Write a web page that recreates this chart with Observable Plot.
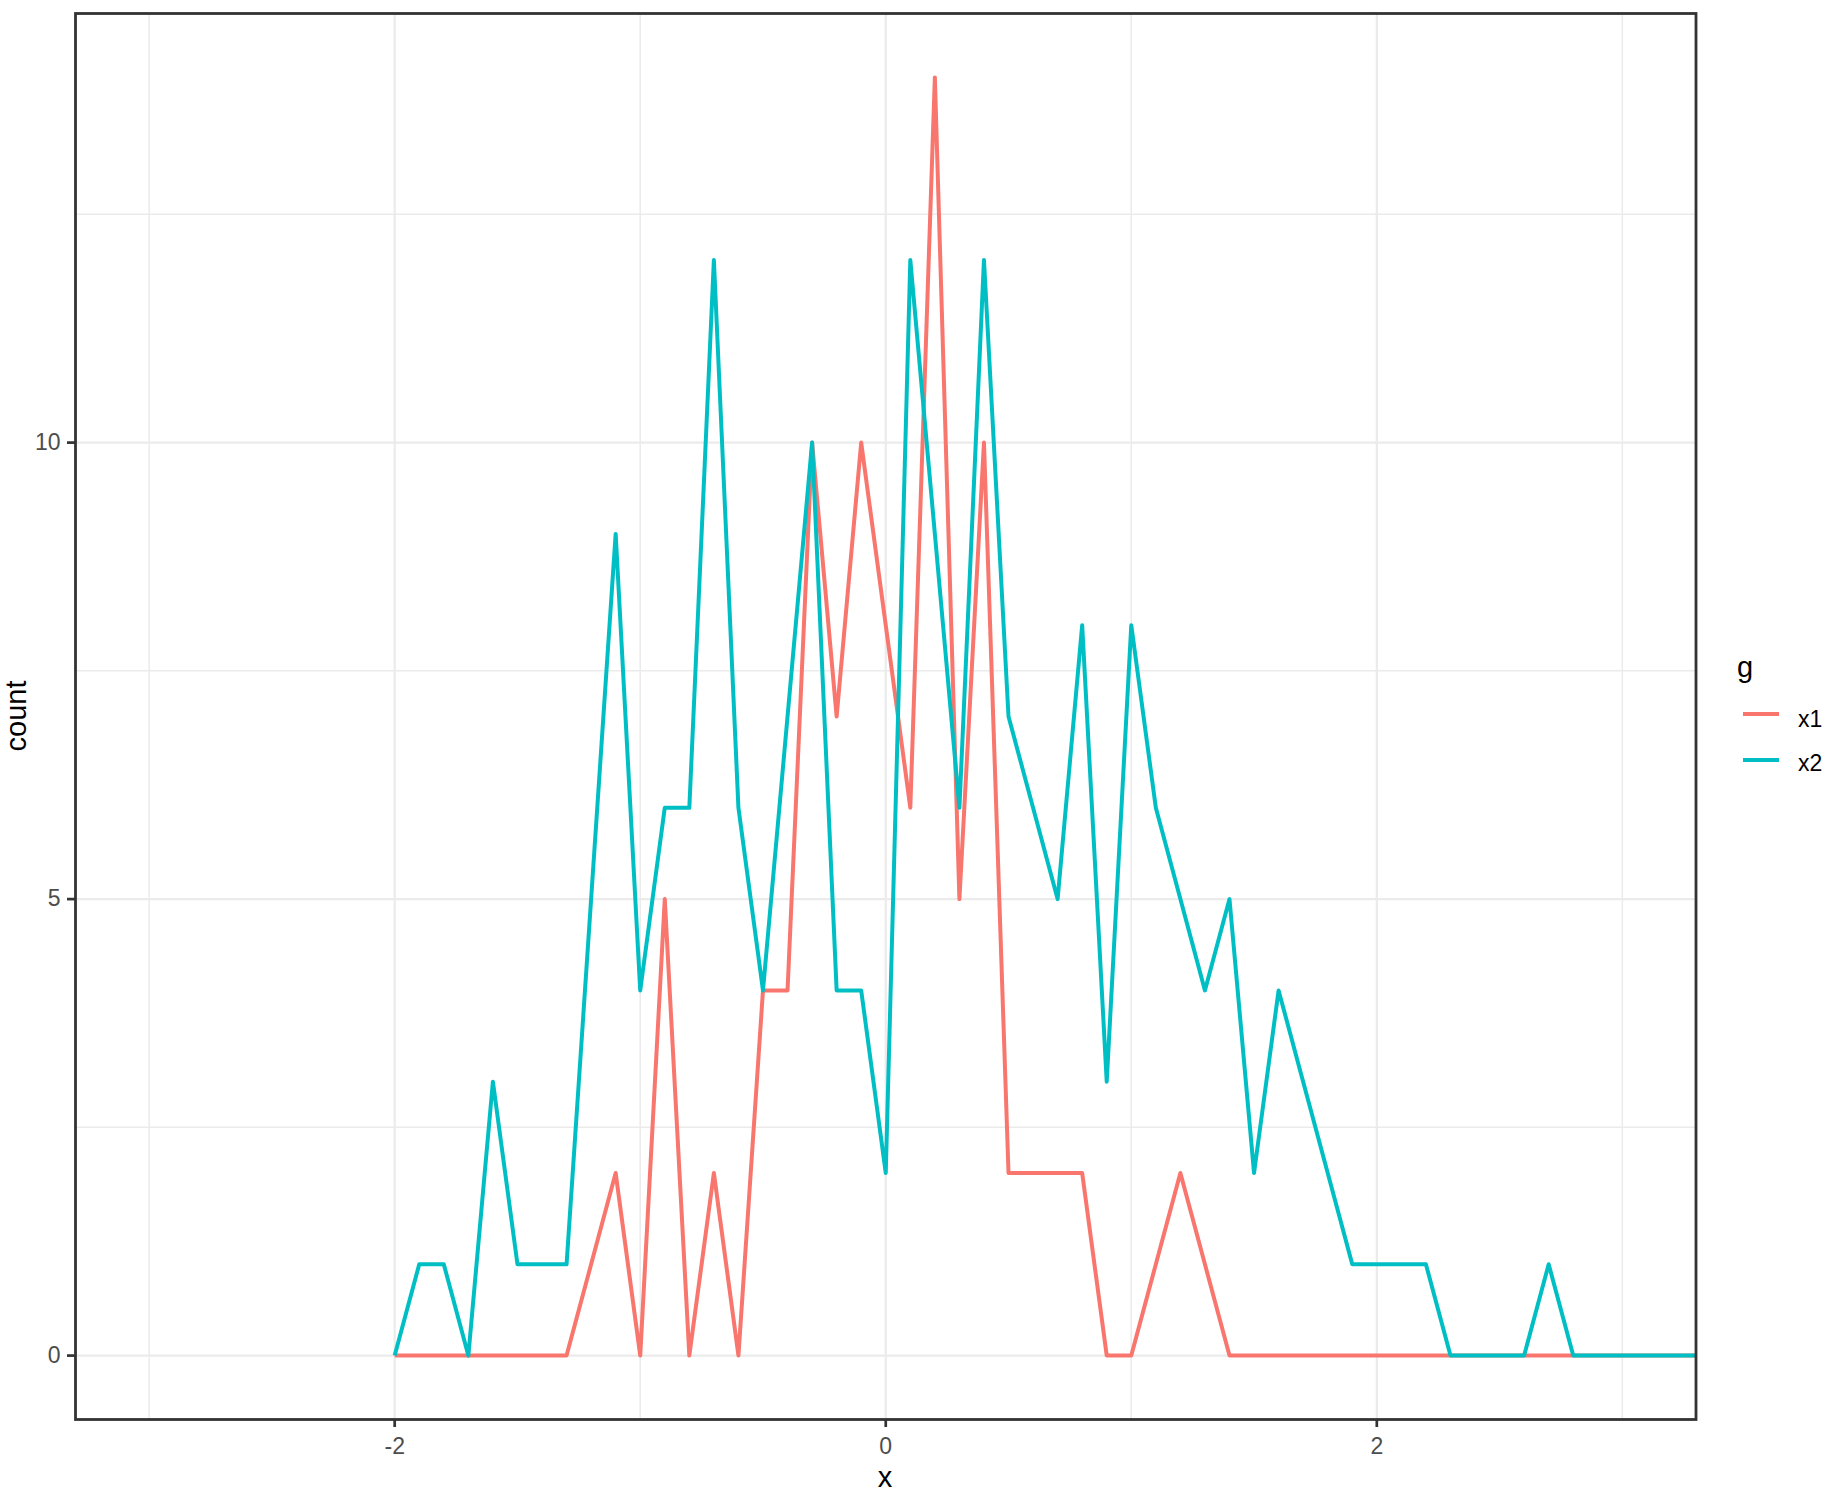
<!DOCTYPE html>
<html>
<head>
<meta charset="utf-8">
<script src="https://cdn.jsdelivr.net/npm/d3@7"></script>
<script src="https://cdn.jsdelivr.net/npm/@observablehq/plot@0.6"></script>
<style>
  html, body { margin: 0; padding: 0; background: #ffffff; }
  #wrap { position: relative; width: 1831px; height: 1504px; font-family: "Liberation Sans", Arial, sans-serif; background: #fff; }
  #wrap svg [aria-label="x-axis tick label"], #wrap svg [aria-label="y-axis tick label"] { fill: #4d4d4d; }
  .t { position: absolute; white-space: nowrap; line-height: 1; color: #000; }
</style>
</head>
<body>
<div id="wrap"></div>
<script>
// Bin centres (binwidth 0.1) of the frequency polygons
const bins = [-2.0, -1.9, -1.8, -1.7, -1.6, -1.5, -1.4, -1.3, -1.2, -1.1,
              -1.0, -0.9, -0.8, -0.7, -0.6, -0.5, -0.4, -0.3, -0.2, -0.1,
               0.0,  0.1,  0.2,  0.3,  0.4,  0.5,  0.6,  0.7,  0.8,  0.9,
               1.0,  1.1,  1.2,  1.3,  1.4,  1.5,  1.6,  1.7,  1.8,  1.9,
               2.0,  2.1,  2.2,  2.3,  2.4,  2.5,  2.6,  2.7,  2.8,  2.9,
               3.0,  3.1,  3.2,  3.3];
// Counts per bin, series x1
const x1 = [0, 0, 0, 0, 0, 0, 0, 0, 1, 2,
            0, 5, 0, 2, 0, 4, 4, 10, 7, 10,
            8, 6, 14, 5, 10, 2, 2, 2, 2, 0,
            0, 1, 2, 1, 0, 0, 0, 0, 0, 0,
            0, 0, 0, 0, 0, 0, 0, 0, 0, 0,
            0, 0, 0, 0];
// Counts per bin, series x2
const x2 = [0, 1, 1, 0, 3, 1, 1, 1, 5, 9,
            4, 6, 6, 12, 6, 4, 7, 10, 4, 4,
            2, 12, 9, 6, 12, 7, 6, 5, 8, 3,
            8, 6, 5, 4, 5, 2, 4, 3, 2, 1,
            1, 1, 1, 0, 0, 0, 0, 1, 0, 0,
            0, 0, 0, 0];

const groups = ["x1", "x2"];
const colors = ["#F8766D", "#00BFC4"];
const xMajor = [-2, 0, 2];
const xMinor = [-3, -1, 1, 3];
const yMajor = [0, 5, 10];
const yMinor = [2.5, 7.5, 12.5];
const xLimits = [-3.3, 3.3];
const yLimits = [-0.7, 14.7];

const series = { x1, x2 };
const data = groups.flatMap(g => bins.map((x, i) => ({ x, count: series[g][i], g })));

const grid = "#ebebeb";
const lineW = 4;
const chart = Plot.plot({
  width: 1831,
  height: 1504,
  marginLeft: 75,
  marginRight: 135.5,
  marginTop: 13,
  marginBottom: 85,
  style: { fontFamily: '"Liberation Sans", Arial, sans-serif', background: "#ffffff", overflow: "visible" },
  x: { domain: xLimits },
  y: { domain: yLimits },
  color: { domain: groups, range: colors },
  marks: [
    Plot.ruleX(xMinor, { stroke: grid, strokeWidth: 1.5 }),
    Plot.ruleY(yMinor, { stroke: grid, strokeWidth: 1.5 }),
    Plot.ruleX(xMajor, { stroke: grid, strokeWidth: 2.2 }),
    Plot.ruleY(yMajor, { stroke: grid, strokeWidth: 2.2 }),
    Plot.line(data, { x: "x", y: "count", z: "g", stroke: "g", strokeWidth: lineW, strokeLinejoin: "round", strokeLinecap: "butt", clip: true }),
    Plot.frame({ stroke: "#333333", strokeWidth: 2.8 }),
    Plot.axisX({ ticks: xMajor, tickSize: 8, tickPadding: 10, fontSize: 23, stroke: "#333333", fill: "#4d4d4d", strokeWidth: 2.7, label: null, tickFormat: d => String(d) }),
    Plot.axisY({ ticks: yMajor, tickSize: 8, tickPadding: 7, fontSize: 23, stroke: "#333333", fill: "#4d4d4d", strokeWidth: 2.7, label: null, tickFormat: d => String(d) })
  ]
});

const wrap = document.getElementById("wrap");
wrap.appendChild(chart);

function addText(txt, left, top, size, extra) {
  const d = document.createElement("div");
  d.className = "t";
  d.textContent = txt;
  d.style.left = left + "px";
  d.style.top = top + "px";
  d.style.fontSize = size + "px";
  if (extra) Object.assign(d.style, extra);
  wrap.appendChild(d);
  return d;
}

// Axis titles
addText("x", 885, 1462.5, 29, { transform: "translateX(-50%)" });
addText("count", 16, 716, 29, { transform: "translate(-50%,-50%) rotate(-90deg)" });

// Legend
addText("g", 1737, 652.5, 29);
groups.forEach((g, i) => {
  const yKey = 714 + 45.5 * i;
  const key = d3.create("svg")
    .attr("width", 40).attr("height", 12)
    .style("position", "absolute")
    .style("left", "1741px")
    .style("top", (yKey - 6) + "px");
  key.append("line")
    .attr("x1", 2).attr("x2", 38).attr("y1", 6).attr("y2", 6)
    .attr("stroke", colors[i]).attr("stroke-width", lineW);
  wrap.appendChild(key.node());
  addText(g, 1798, 707.5 + 44 * i, 23, { color: "#000" });
});
</script>
</body>
</html>
